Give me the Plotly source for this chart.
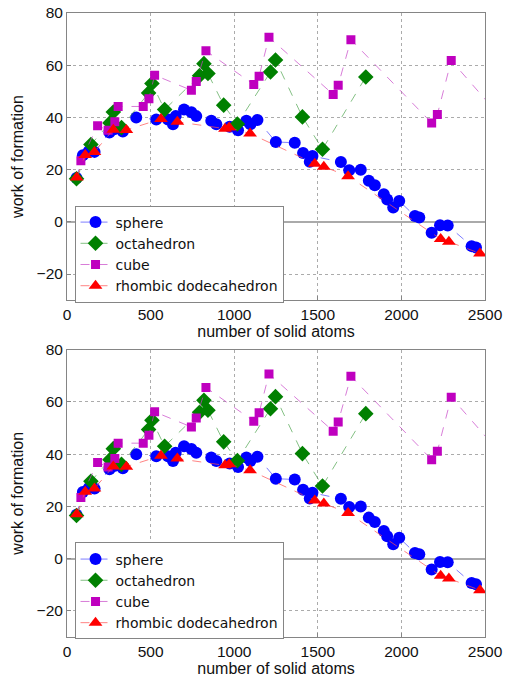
import plotly.graph_objects as go
from plotly.subplots import make_subplots

# ---- data ----
sphere_x = [57, 95, 130, 165, 254, 282, 334, 414, 534, 604, 634, 650, 700, 744, 773, 863, 893, 973, 1023,
            1073, 1097, 1139, 1249, 1362, 1412, 1452, 1468, 1638, 1688, 1757, 1805, 1841, 1895, 1915,
            1951, 1987, 2081, 2107, 2181, 2231, 2277, 2420, 2446]
sphere_y = [16.8, 25.5, 27, 26.8, 34.2, 35.5, 34.6, 40, 39.2, 39.2, 37.4, 40.5, 43, 42, 40.5, 38.7, 37.4, 36.4, 35.1,
            38.7, 37.4, 39, 30.6, 30.3, 26.4, 23, 25.2, 22.9, 19.8, 20, 15.7, 14, 10.6, 8.6,
            5.5, 8, 2.2, 1.7, -4.2, -1.3, -1.4, -9.3, -9.8]

octa_x = [57, 143, 257, 277, 326, 488, 508, 584, 793, 819, 843, 937, 1019, 1217, 1247, 1408, 1528, 1787]
octa_y = [16.5, 29.6, 37.9, 42.1, 36.1, 49.4, 53.0, 43.0, 56.0, 60.6, 56.8, 44.7, 37.5, 57.4, 62.0, 40.2, 27.8, 55.5]

cube_x = [83, 183, 246, 286, 306, 456, 490, 524, 744, 773, 831, 1117, 1149, 1208, 1592, 1622, 1698,
          2181, 2215, 2298, 2600]
cube_y = [23.4, 36.8, 35.1, 38.3, 44.2, 44.2, 47.2, 56.2, 50.4, 53.8, 65.5, 52.6, 55.8, 70.7, 48.8, 52.3, 69.8,
          37.9, 41.1, 61.8, 39.7]

rhomb_x = [58, 109, 164, 277, 355, 562, 660, 945, 970, 1095, 1482, 1536, 1681, 2235, 2284, 2470]
rhomb_y = [17.0, 25.6, 26.8, 35.3, 35.2, 39.4, 38.3, 35.7, 36.1, 33.8, 22.3, 21.1, 17.5, -6.6, -7.6, -12.1]

series = [
    ("sphere", sphere_x, sphere_y, "circle", 12, "#0000ff", "rgba(70,70,255,0.7)"),
    ("octahedron", octa_x, octa_y, "diamond", 12, "#008000", "rgba(50,150,50,0.6)"),
    ("cube", cube_x, cube_y, "square", 9, "#bf00bf", "rgba(200,70,200,0.7)"),
    ("rhombic dodecahedron", rhomb_x, rhomb_y, "triangle-up", 12, "#ff0000", "rgba(255,80,80,0.7)"),
]

x_ticks = [0, 500, 1000, 1500, 2000, 2500]
y_ticks = [-20, 0, 20, 40, 60, 80]
y_tick_text = ["\u221220", "0", "20", "40", "60", "80"]

fig = make_subplots(rows=2, cols=1, vertical_spacing=0.0797)

for row, leg in [(1, "legend"), (2, "legend2")]:
    for name, xs, ys, sym, sz, mcol, lcol in series:
        fig.add_trace(go.Scatter(
            x=xs, y=ys, mode="lines+markers", name=name, legend=leg,
            marker=dict(symbol=sym, size=sz, color=mcol, line=dict(width=0)),
            line=dict(color=lcol, width=1, dash="dash"),
        ), row=row, col=1)

axis_common = dict(
    showline=True, linecolor="#858585", linewidth=1, mirror=True,
    showgrid=True, gridcolor="#ababab", griddash="dot", gridwidth=1,
    ticks="inside", ticklen=4, tickcolor="#858585",
    tickfont=dict(size=15.5, color="#111"),
    automargin=False,
)
for r in (1, 2):
    fig.update_xaxes(range=[0, 2500], tickvals=x_ticks, zeroline=False,
                     title=dict(text="number of solid atoms", font=dict(size=16, color="#111"), standoff=2),
                     row=r, col=1, **axis_common)
    fig.update_yaxes(range=[-30, 80], tickvals=y_ticks, ticktext=y_tick_text,
                     zeroline=True, zerolinecolor="#aaaaaa", zerolinewidth=1.6,
                     title=dict(text="work of formation", font=dict(size=16, color="#111"), standoff=8),
                     row=r, col=1, **axis_common)

leg_common = dict(xanchor="left", yanchor="top", bgcolor="white",
                  bordercolor="#858585", borderwidth=1,
                  font=dict(size=14, family="DejaVu Sans, Liberation Sans, sans-serif", color="#111"),
                  tracegroupgap=0, itemsizing="trace")
fig.update_layout(
    width=518, height=678,
    margin=dict(l=67, r=33, t=13, b=41),
    paper_bgcolor="white", plot_bgcolor="white",
    font=dict(family="Liberation Sans, Arial, sans-serif", size=16, color="#111"),
    legend=dict(x=0.018, y=0.6915, **leg_common),
    legend2=dict(x=0.018, y=0.1515, **leg_common),
    showlegend=True,
)
fig.update_yaxes(domain=[0.5398, 1.0], row=1, col=1)
fig.update_yaxes(domain=[0.0, 0.4605], row=2, col=1)

fig.write_html("out.html")
